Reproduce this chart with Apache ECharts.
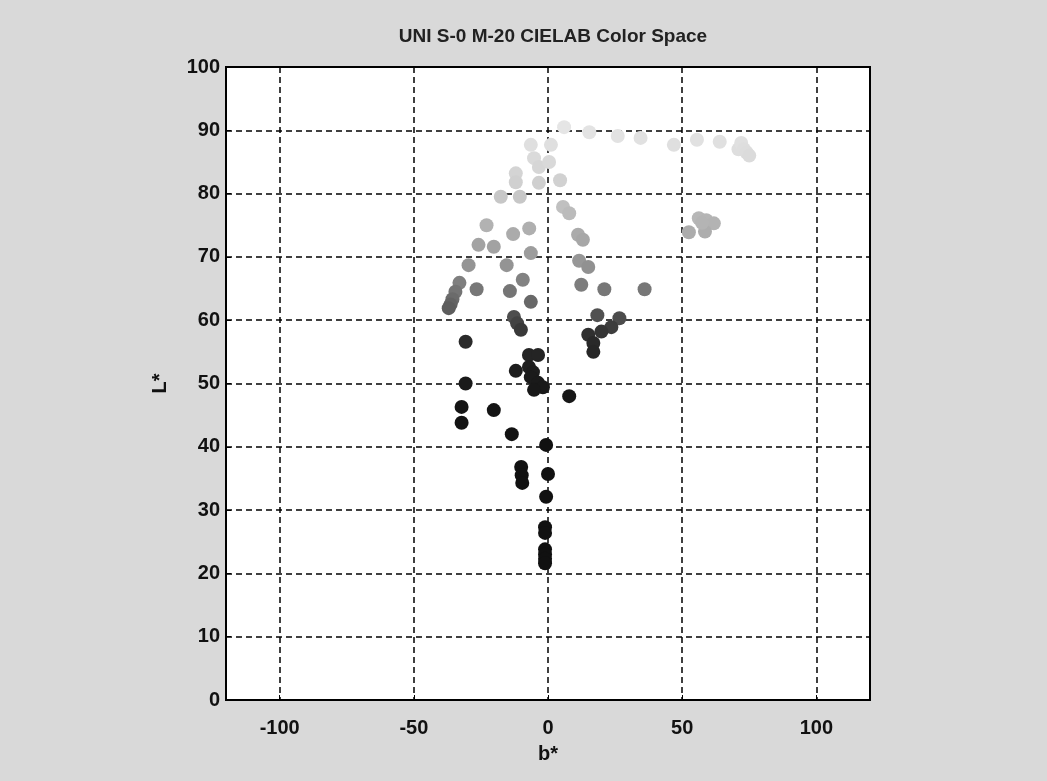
<!DOCTYPE html>
<html>
<head>
<meta charset="utf-8">
<title>UNI S-0 M-20 CIELAB Color Space</title>
<script src="https://cdn.jsdelivr.net/npm/echarts@6/dist/echarts.min.js"></script>
<style>
    html, body { margin: 0; padding: 0; background: #d9d9d9; }
    #chart { width: 1047px; height: 781px; }
</style>
</head>
<body>
<div id="chart"></div>
<script>
// b* values (x) and L* values (y)
const bStar = [
    6, 15.4, 26, 34.5, 46.9, 55.5, 64, 71, 72, 73, 74, 75,
    -6.4, 1.1, -5.2, -3.4, 0.4, -12, -12, -3.4, 4.5,
    -17.6, -10.5, 5.6, 7.9, -22.9, -13, -7, -25.9, -20.2, 11.2, 13,
    -6.4, -29.6, -15.4, 11.6, 15, -33, -34.5, -35.6, -36.3, -37, -26.6, -14.2, -9.4, -6.4,
    12.4, 21, 36,
    52.5, 56.2, 59, 61.8, 58.5, 57.4,
    -12.7, -11.5, -10.1,
    18.4, 26.6, 23.6, 19.9, 15, 16.9, 16.9,
    -30.7, -7.1, -3.7, -12, -7.1, -5.6, -6.4, -3.7, -1.9, -5.2,
    -30.7, 7.9, -32.2, -32.2, -20.2, -13.5, -0.7,
    -10, -9.8, -9.6, 0, -0.7, -1.1, -1.1, -1.1, -1.1, -1.1, -1.1
];
const lStar = [
    90.5, 89.7, 89.1, 88.8, 87.7, 88.5, 88.2, 87, 88, 87, 86.5, 86,
    87.7, 87.7, 85.6, 84.2, 85, 83.2, 81.8, 81.7, 82.1,
    79.5, 79.5, 77.9, 76.9, 75, 73.6, 74.5, 71.9, 71.6, 73.5, 72.7,
    70.6, 68.7, 68.7, 69.4, 68.4, 65.9, 64.5, 63.3, 62.5, 61.9, 64.9, 64.6, 66.4, 62.9,
    65.6, 64.9, 64.9,
    73.9, 76.1, 75.8, 75.3, 74, 75.4,
    60.5, 59.5, 58.5,
    60.8, 60.3, 58.9, 58.2, 57.7, 56.4, 55,
    56.6, 54.5, 54.5, 52, 52.6, 51.8, 51, 50.1, 49.4, 49,
    50, 48, 46.3, 43.8, 45.8, 42, 40.3,
    36.8, 35.5, 34.3, 35.7, 32.1, 27.3, 26.4, 23.8, 23, 22.3, 21.6
];
const xTicks = [-100, -50, 0, 50, 100];

const points = bStar.map((b, i) => [b, lStar[i]]);

const chart = echarts.init(document.getElementById('chart'));

const option = {
    backgroundColor: '#d9d9d9',
    animation: false,
    textStyle: { fontFamily: 'Liberation Sans, Arial, sans-serif' },
    title: {
        text: 'UNI S-0 M-20 CIELAB Color Space',
        left: 548,
        textAlign: 'center',
        top: 22,
        textStyle: { fontSize: 19, fontWeight: 'bold', color: '#222' }
    },
    grid: {
        left: 226, right: 177, top: 67, bottom: 81,
        show: true,
        backgroundColor: '#ffffff',
        borderColor: '#000',
        borderWidth: 2
    },
    visualMap: {
        show: false,
        type: 'continuous',
        dimension: 1,
        min: 40,
        max: 92,
        inRange: {
            color: ['#111111', '#141414', '#1c1c1c', '#2c2c2c', '#6a6a6a', '#959595', '#b0b0b0', '#cccccc', '#dcdcdc', '#e8e8e8']
        }
    },
    xAxis: {
        type: 'value',
        min: -120,
        max: 120,
        name: 'b*',
        nameLocation: 'middle',
        nameGap: 44,
        nameTextStyle: { fontSize: 20, fontWeight: 'bold', color: '#111' },
        axisLine: { onZero: false, lineStyle: { color: '#000', width: 2 } },
        axisTick: { inside: true, length: 5, customValues: xTicks, lineStyle: { color: '#000' } },
        axisLabel: { customValues: xTicks, fontSize: 20, fontWeight: 'bold', color: '#111', margin: 18 },
        splitLine: { show: true, lineStyle: { color: '#000', type: [6, 4], width: 1.5 } }
    },
    yAxis: {
        type: 'value',
        min: 0,
        max: 100,
        interval: 10,
        name: 'L*',
        nameLocation: 'middle',
        nameGap: 56,
        nameRotate: 90,
        nameTextStyle: { fontSize: 20, fontWeight: 'bold', color: '#111' },
        axisLine: { onZero: false, lineStyle: { color: '#000', width: 2 } },
        axisTick: { inside: true, length: 5, lineStyle: { color: '#000' } },
        axisLabel: { fontSize: 20, fontWeight: 'bold', color: '#111', margin: 6 },
        splitLine: { show: true, lineStyle: { color: '#000', type: [6, 4], width: 1.5 } }
    },
    series: [{
        type: 'scatter',
        data: points,
        symbol: 'circle',
        symbolSize: 14,
        itemStyle: { opacity: 1 }
    }]
};

chart.setOption(option);
</script>
</body>
</html>
